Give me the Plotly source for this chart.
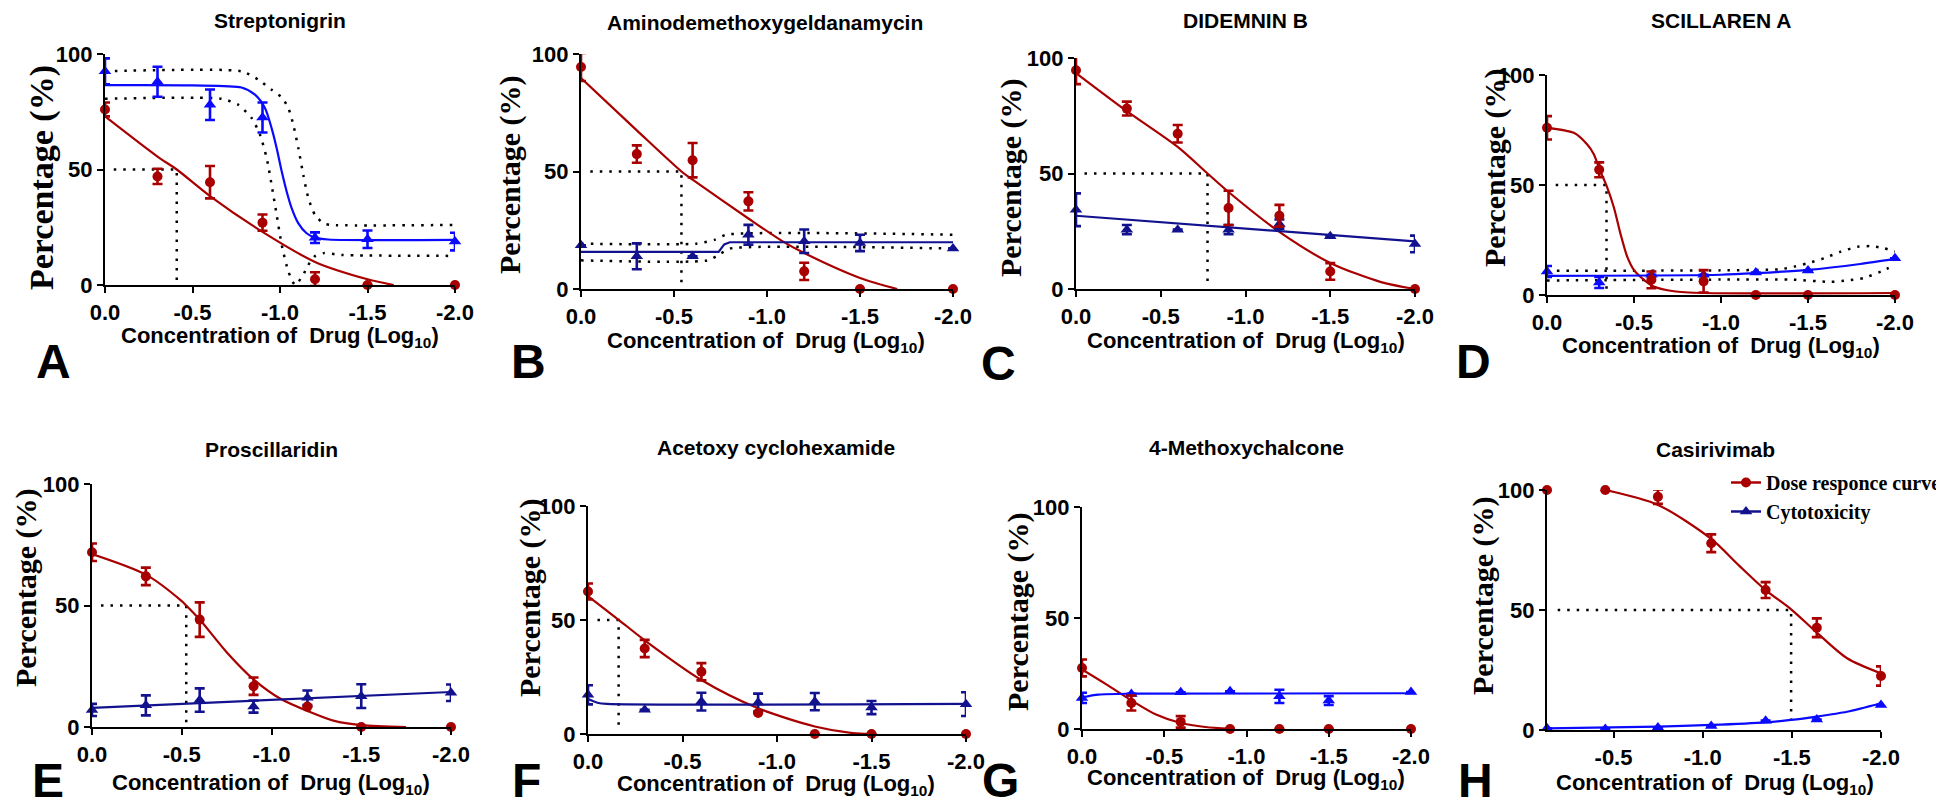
import plotly.graph_objects as go

W, H = 1944, 807
RED = "#a80000"
BLUE = "#0a0aff"
NAVY = "#12128f"
SANS = "Liberation Sans"
SERIF = "Liberation Serif"

# ---------------- data ----------------
X_DOSE = [0, -0.3, -0.6, -0.9, -1.2, -1.5, -2.0]
X_TICKS = [0, -0.5, -1.0, -1.5, -2.0]
X_TICK_TEXT = ["0.0", "-0.5", "-1.0", "-1.5", "-2.0"]
Y_TICKS = [0, 50, 100]
TITLES = ["Streptonigrin", "Aminodemethoxygeldanamycin", "DIDEMNIN B", "SCILLAREN A",
          "Proscillaridin", "Acetoxy cyclohexamide", "4-Methoxychalcone", "Casirivimab"]
LETTERS = ["A", "B", "C", "D", "E", "F", "G", "H"]
X_TITLE = "Concentration of\u00a0 Drug (Log<sub>10</sub>)"
Y_TITLE = "Percentage (%)"
LEGEND_NAMES = ["Dose responce curve", "Cytotoxicity"]

# A - Streptonigrin
A_red = [76, 47, 44.5, 27, 2.5, 0, 0]
A_red_err = [3, 3.3, 7, 3.5, 3, 0, 0]
A_blue = [92.5, 88, 78, 72.5, 20.5, 19.8, 18.8]
A_blue_err = [5.6, 6.5, 6.6, 6.5, 2.3, 3.8, 3.8]
A_red_fit_x = [0, -0.3, -0.41, -0.6, -0.9, -1.2, -1.5, -1.65]
A_red_fit_y = [73, 55.6, 50, 38.5, 23, 10, 2.5, 0]
A_blue_fit_x = [0, -0.5, -0.78, -0.857, -0.914, -0.952, -0.981, -1.01, -1.038, -1.067, -1.105, -1.152, -1.2, -1.276, -2.0]
A_blue_fit_y = [86.5, 86.4, 85.5, 82.4, 76.6, 67.9, 59.2, 49.1, 40.5, 33.2, 26.7, 22.4, 20.5, 19.7, 19.5]
A_hi_x = [0, -0.78, -0.876, -0.952, -1.01, -1.048, -1.076, -1.105, -1.133, -1.162, -1.2, -1.248, -1.295, -2.0]
A_hi_y = [92.5, 92.5, 88.9, 84.5, 81.2, 76.6, 69.4, 59.2, 47.7, 37.6, 30.3, 26.7, 26.0, 26.0]
A_lo_x = [0, -0.667, -0.762, -0.838, -0.886, -0.924, -0.952, -0.981, -1.01, -1.048, -1.086, -1.13, -1.16, -1.2, -1.25, -1.35, -2.0]
A_lo_y = [80.6, 80.6, 78, 72.3, 65, 54.9, 43.4, 30.3, 17.3, 5.8, 0, 4, 8.5, 12.5, 13.8, 13, 12.6]
A_ic50 = -0.41

# B - Aminodemethoxygeldanamycin
B_red = [94.5, 57.4, 54.8, 37.3, 7.5, 0, 0]
B_red_err = [6, 3.7, 7.3, 3.9, 3.7, 0, 0]
B_blue = [18.6, 13.9, 13.9, 23.1, 20.3, 19.6, 17.2]
B_blue_err = [0, 5.5, 0, 4.2, 5, 3.5, 0]
B_red_fit_x = [0, -0.3, -0.54, -0.6, -0.9, -1.08, -1.2, -1.5, -1.7]
B_red_fit_y = [89.8, 67.5, 50, 46.5, 30, 20.5, 15.3, 4.7, 0]
B_blue_fit_x = [0, -0.74, -0.77, -0.8, -2.0]
B_blue_fit_y = [15.8, 15.8, 19, 19.9, 19.9]
B_hi_x = [0, -0.62, -0.72, -0.78, -2.0]
B_hi_y = [19.3, 19.3, 21, 23.1, 23.1]
B_lo_x = [0, -0.68, -0.75, -0.8, -2.0]
B_lo_y = [12.2, 12.2, 15, 17.2, 17.2]
B_ic50 = -0.54

# C - Didemnin B
C_red = [94.7, 78.1, 67.2, 35.1, 31.7, 7.6, 0]
C_red_err = [6, 3, 3.8, 7.4, 4.7, 3.6, 0]
C_blue = [34.3, 25.7, 25.7, 25.7, 28.1, 22.8, 19.5]
C_blue_err = [7.1, 2, 0, 2, 2, 0, 3.6]
C_red_fit_x = [0, -0.3, -0.6, -0.776, -0.9, -1.2, -1.5, -1.8, -2.0]
C_red_fit_y = [93.5, 77, 61.5, 50, 42, 24.7, 11.3, 3, 0]
C_blue_fit_x = [0, -2.0]
C_blue_fit_y = [31.7, 20.6]
C_ic50 = -0.776

# D - Scillaren A
D_red = [76, 56.9, 6.9, 6.2, 0, 0, 0]
D_red_err = [5.3, 3.4, 3.8, 5.1, 0, 0, 0]
D_blue = [10.7, 5.7, 9.2, 9.2, 10.2, 11.1, 16.7]
D_blue_err = [2.5, 2.5, 0, 0, 0, 0, 0]
D_red_fit_x = [0, -0.154, -0.23, -0.269, -0.303, -0.342, -0.384, -0.422, -0.461, -0.499, -0.557, -0.614, -0.729, -0.902, -2.0]
D_red_fit_y = [76, 73.7, 68.5, 64, 56.9, 49.7, 39.9, 27.9, 17.4, 11.4, 6.9, 3.9, 1.7, 0.9, 0.9]
D_blue_fit_x = [0, -1.0, -1.2, -1.5, -1.8, -2.0]
D_blue_fit_y = [8.7, 9.2, 9.9, 11.4, 14.1, 16.4]
D_hi_x = [0, -1.0, -1.34, -1.42, -1.497, -1.593, -1.689, -1.785, -1.862, -1.939, -2.0]
D_hi_y = [11, 11.2, 11.7, 12.9, 14.4, 16.7, 19.7, 21.9, 22.2, 21.2, 19.7]
D_lo_x = [0, -1.0, -1.4, -1.63, -1.727, -1.82, -1.92, -2.0]
D_lo_y = [6.6, 7.0, 7.0, 6.0, 6.6, 7.7, 10.7, 13.7]
D_ic50 = -0.342

# E - Proscillaridin
E_red = [71.9, 62, 44.2, 16.8, 8.4, 0, 0]
E_red_err = [3.6, 3.6, 7.1, 3.6, 0, 0, 0]
E_blue = [7, 8.9, 11.1, 8.4, 12, 12.7, 14.1]
E_blue_err = [2.5, 4.1, 4.8, 2.5, 3, 4.9, 3.4]
E_red_fit_x = [0, -0.3, -0.5, -0.525, -0.6, -0.75, -0.9, -1.05, -1.2, -1.35, -1.5, -1.75]
E_red_fit_y = [71.2, 62.7, 51.8, 50, 44.2, 30.8, 19.6, 11.6, 6.6, 2.5, 0.8, 0]
E_blue_fit_x = [0, -2.0]
E_blue_fit_y = [7.9, 14.4]
E_ic50 = -0.525

# F - Acetoxy cyclohexamide
F_red = [62.5, 37.5, 27.3, 9.2, 0, 0, 0]
F_red_err = [3.5, 3.8, 3.8, 0, 0, 0, 0]
F_blue = [17.2, 10.6, 14.2, 13.8, 14.2, 11.6, 13.1]
F_blue_err = [4.2, 0, 3.9, 3.9, 3.8, 2.9, 5.2]
F_red_fit_x = [0, -0.162, -0.3, -0.6, -0.9, -1.2, -1.4, -1.5]
F_red_fit_y = [60.5, 50.1, 41.1, 23.7, 11.3, 3.3, 0.4, 0]
F_blue_fit_x = [0, -0.05, -0.1, -2.0]
F_blue_fit_y = [15.3, 13.7, 13.2, 13.2]
F_ic50 = -0.162

# G - 4-Methoxychalcone
G_red = [27.5, 11.7, 3.2, 0, 0, 0, 0]
G_red_err = [3.8, 3.4, 2.6, 0, 0, 0, 0]
G_blue = [14, 15.8, 16.5, 17, 14.7, 12.8, 16.7]
G_blue_err = [2.3, 0, 0, 0, 3, 2, 0]
G_red_fit_x = [0, -0.15, -0.3, -0.45, -0.6, -0.75, -0.9]
G_red_fit_y = [26.8, 20, 12.9, 6.5, 2.7, 0.9, 0.15]
G_blue_fit_x = [0, -0.1, -0.3, -2.0]
G_blue_fit_y = [14.3, 15.5, 15.9, 16.1]

# H - Casirivimab
H_dose = [-0.127, -0.454, -0.749, -1.048, -1.353, -1.64, -2.0]
H_red = [100, 100, 97.2, 77.8, 58.3, 42.6, 22.5]
H_red_err = [0, 0, 3, 3.7, 3.3, 3.9, 4]
H_blue = [0.7, 0.4, 1, 1.7, 3.9, 4.4, 10.4]
H_blue_err = [0, 0, 0, 0, 0, 0, 0]
H_red_fit_x = [-0.454, -0.749, -1.048, -1.2, -1.353, -1.496, -1.64, -1.81, -2.0]
H_red_fit_y = [100, 93.8, 79.6, 68.8, 58.3, 50.3, 40.6, 29.9, 23.6]
H_blue_fit_x = [-0.127, -0.749, -1.048, -1.353, -1.496, -1.64, -1.81, -2.0]
H_blue_fit_y = [0.7, 1.4, 2.1, 3.2, 4.2, 5.6, 7.6, 11.1]
H_ic50 = -1.496

# ---------------- panel assembly ----------------
panels = [
    dict(x=X_DOSE, red=A_red, red_err=A_red_err, blue=A_blue, blue_err=A_blue_err, bc=BLUE,
         rfx=A_red_fit_x, rfy=A_red_fit_y, bfx=A_blue_fit_x, bfy=A_blue_fit_y, bshape="spline",
         bands=[(A_hi_x, A_hi_y), (A_lo_x, A_lo_y)], ic50=A_ic50, xr=[0, -2.0]),
    dict(x=X_DOSE, red=B_red, red_err=B_red_err, blue=B_blue, blue_err=B_blue_err, bc=NAVY,
         rfx=B_red_fit_x, rfy=B_red_fit_y, bfx=B_blue_fit_x, bfy=B_blue_fit_y, bshape="linear",
         bands=[(B_hi_x, B_hi_y), (B_lo_x, B_lo_y)], ic50=B_ic50, xr=[0, -2.0]),
    dict(x=X_DOSE, red=C_red, red_err=C_red_err, blue=C_blue, blue_err=C_blue_err, bc=NAVY,
         rfx=C_red_fit_x, rfy=C_red_fit_y, bfx=C_blue_fit_x, bfy=C_blue_fit_y, bshape="linear",
         bands=[], ic50=C_ic50, xr=[0, -2.0]),
    dict(x=X_DOSE, red=D_red, red_err=D_red_err, blue=D_blue, blue_err=D_blue_err, bc=BLUE,
         rfx=D_red_fit_x, rfy=D_red_fit_y, bfx=D_blue_fit_x, bfy=D_blue_fit_y, bshape="spline",
         bands=[(D_hi_x, D_hi_y), (D_lo_x, D_lo_y)], ic50=D_ic50, xr=[0, -2.0]),
    dict(x=X_DOSE, red=E_red, red_err=E_red_err, blue=E_blue, blue_err=E_blue_err, bc=NAVY,
         rfx=E_red_fit_x, rfy=E_red_fit_y, bfx=E_blue_fit_x, bfy=E_blue_fit_y, bshape="linear",
         bands=[], ic50=E_ic50, xr=[0, -2.0]),
    dict(x=X_DOSE, red=F_red, red_err=F_red_err, blue=F_blue, blue_err=F_blue_err, bc=NAVY,
         rfx=F_red_fit_x, rfy=F_red_fit_y, bfx=F_blue_fit_x, bfy=F_blue_fit_y, bshape="spline",
         bands=[], ic50=F_ic50, xr=[0, -2.0]),
    dict(x=X_DOSE, red=G_red, red_err=G_red_err, blue=G_blue, blue_err=G_blue_err, bc=BLUE,
         rfx=G_red_fit_x, rfy=G_red_fit_y, bfx=G_blue_fit_x, bfy=G_blue_fit_y, bshape="spline",
         bands=[], ic50=None, xr=[0, -2.0]),
    dict(x=H_dose, red=H_red, red_err=H_red_err, blue=H_blue, blue_err=H_blue_err, bc=BLUE,
         rfx=H_red_fit_x, rfy=H_red_fit_y, bfx=H_blue_fit_x, bfy=H_blue_fit_y, bshape="spline",
         bands=[], ic50=H_ic50, xr=[H_dose[0], -2.0]),
]

# plot-area boxes in pixels: (left, right, top(y=100), bottom(y=0))
BOXES = [(97, 447, 46, 277), (573, 945, 46, 281), (1068, 1407, 50, 281), (1539, 1887, 67, 287),
         (84, 443, 476, 719), (580, 958, 498, 726), (1074, 1403, 499, 721), (1539, 1873, 482, 722)]
TITLE_POS = [(272, 13), (757, 14), (1237, 13), (1713, 13), (263, 441), (768, 439), (1238, 439), (1707, 441)]
XT_POS = [(272, 329), (758, 334), (1238, 334), (1713, 339), (263, 776), (768, 777), (1238, 771), (1707, 776)]
YT_POS = [(34, 170), (502, 167), (1003, 170), (1487, 160), (18, 580), (522, 590), (1010, 604), (1475, 588)]
YT_SIZE = [34, 30, 30, 30, 30, 30, 30, 30]
LET_POS = [(45, 353), (520, 353), (990, 355), (1465, 353), (40, 772), (518, 772), (992, 772), (1467, 772)]

fig = go.Figure()
layout = dict(width=W, height=H, paper_bgcolor="white", plot_bgcolor="white",
              margin=dict(l=0, r=0, t=0, b=0, autoexpand=False), annotations=[])

tickfont = dict(family=SANS, size=22, color="black", weight="bold")
dot_line = dict(color="black", width=2.5, dash="2.5px,7px")

for i, p in enumerate(panels):
    n = i + 1
    xa = "x" if n == 1 else f"x{n}"
    ya = "y" if n == 1 else f"y{n}"
    l, r, t, b = BOXES[i]
    if p["xr"][0] == 0:
        tv, tt = X_TICKS, X_TICK_TEXT
    else:
        tv, tt = X_TICKS[1:], X_TICK_TEXT[1:]
    layout["xaxis" if n == 1 else f"xaxis{n}"] = dict(
        domain=[l / W, r / W], range=p["xr"], anchor=ya, tickvals=tv, ticktext=tt,
        showline=True, linecolor="black", linewidth=2.2, ticks="outside", ticklen=6,
        tickwidth=2.2, tickcolor="black", showgrid=False, zeroline=False, tickfont=tickfont,
        fixedrange=True)
    layout["yaxis" if n == 1 else f"yaxis{n}"] = dict(
        domain=[1 - b / H, 1 - t / H], range=[0, 100], anchor=xa, tickvals=Y_TICKS,
        showline=True, linecolor="black", linewidth=2.2, ticks="outside", ticklen=6,
        tickwidth=2.2, tickcolor="black", showgrid=False, zeroline=False, tickfont=tickfont,
        fixedrange=True)

    # confidence bands (dotted)
    for bx, by in p["bands"]:
        fig.add_trace(go.Scatter(x=bx, y=by, mode="lines", line=dict(shape="spline", smoothing=0.6, **dot_line),
                                 xaxis=xa, yaxis=ya, showlegend=False, hoverinfo="skip"))
    # IC50 guide
    if p["ic50"] is not None:
        x0 = p["xr"][0] - 0.06 if p["xr"][0] != 0 else -0.05
        fig.add_trace(go.Scatter(x=[x0, p["ic50"], p["ic50"]], y=[50, 50, 1.5], mode="lines",
                                 line=dot_line, xaxis=xa, yaxis=ya, showlegend=False, hoverinfo="skip"))
    # fitted curves
    fig.add_trace(go.Scatter(x=p["rfx"], y=p["rfy"], mode="lines",
                             line=dict(color=RED, width=2.2, shape="spline", smoothing=0.8),
                             xaxis=xa, yaxis=ya, showlegend=False, hoverinfo="skip"))
    bl = dict(color=p["bc"], width=2.2, shape=p["bshape"])
    if p["bshape"] == "spline":
        bl["smoothing"] = 0.7
    fig.add_trace(go.Scatter(x=p["bfx"], y=p["bfy"], mode="lines", line=bl,
                             xaxis=xa, yaxis=ya, showlegend=False, hoverinfo="skip"))
    # data points
    fig.add_trace(go.Scatter(x=p["x"], y=p["blue"], mode="markers",
                             marker=dict(symbol="triangle-up", size=11, color=p["bc"]),
                             error_y=dict(type="data", array=p["blue_err"], color=p["bc"], thickness=2.6, width=5),
                             cliponaxis=False, xaxis=xa, yaxis=ya, showlegend=False))
    fig.add_trace(go.Scatter(x=p["x"], y=p["red"], mode="markers",
                             marker=dict(symbol="circle", size=10, color=RED),
                             error_y=dict(type="data", array=p["red_err"], color=RED, thickness=2.6, width=5),
                             cliponaxis=False, xaxis=xa, yaxis=ya, showlegend=False))

    # texts
    tx, ty = TITLE_POS[i]
    layout["annotations"].append(dict(text=TITLES[i], x=tx / W, y=1 - ty / H, xref="paper", yref="paper",
                                      xanchor="center", yanchor="middle", showarrow=False,
                                      font=dict(family=SANS, size=21, color="black", weight="bold")))
    tx, ty = XT_POS[i]
    layout["annotations"].append(dict(text=X_TITLE, x=tx / W, y=1 - ty / H, xref="paper", yref="paper",
                                      xanchor="center", yanchor="middle", showarrow=False,
                                      font=dict(family=SANS, size=22, color="black", weight="bold")))
    tx, ty = YT_POS[i]
    layout["annotations"].append(dict(text=Y_TITLE, x=tx / W, y=1 - ty / H, xref="paper", yref="paper",
                                      xanchor="center", yanchor="middle", showarrow=False, textangle=-90,
                                      font=dict(family=SERIF, size=YT_SIZE[i], color="black", weight="bold")))
    tx, ty = LET_POS[i]
    layout["annotations"].append(dict(text=LETTERS[i], x=tx / W, y=1 - ty / H, xref="paper", yref="paper",
                                      xanchor="center", yanchor="middle", showarrow=False,
                                      font=dict(family=SANS, size=48, color="black", weight="bold")))

# legend entries (panel H)
fig.add_trace(go.Scatter(x=[None], y=[None], mode="lines+markers", name=LEGEND_NAMES[0],
                         line=dict(color=RED, width=2.5), marker=dict(symbol="circle", size=10, color=RED),
                         xaxis="x8", yaxis="y8"))
fig.add_trace(go.Scatter(x=[None], y=[None], mode="lines+markers", name=LEGEND_NAMES[1],
                         line=dict(color=NAVY, width=2.5), marker=dict(symbol="triangle-up", size=11, color=NAVY),
                         xaxis="x8", yaxis="y8"))

layout["showlegend"] = True
layout["legend"] = dict(x=1718 / W, y=1 - 455 / H, xanchor="left", yanchor="top",
                        bgcolor="rgba(0,0,0,0)", borderwidth=0, tracegroupgap=0,
                        font=dict(family=SERIF, size=20, color="black", weight="bold"))
fig.update_layout(**layout)
fig.write_html("out.html")
